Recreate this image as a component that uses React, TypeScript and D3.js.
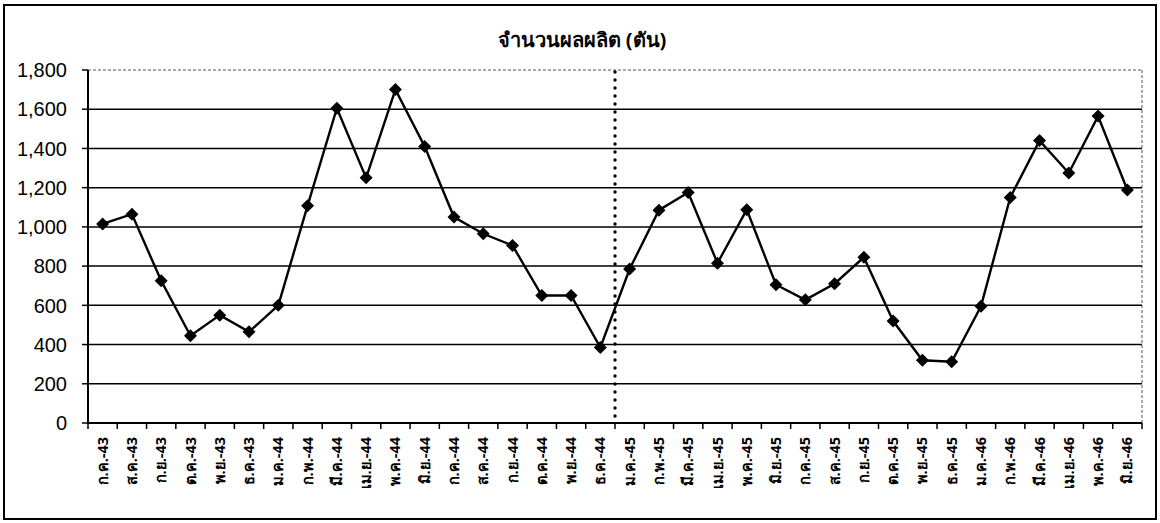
import React from "react";
import * as d3 from "d3";

const months: string[] = [
  "ก.ค.-43", "ส.ค.-43", "ก.ย.-43", "ต.ค.-43", "พ.ย.-43", "ธ.ค.-43",
  "ม.ค.-44", "ก.พ.-44", "มี.ค.-44", "เม.ย.-44", "พ.ค.-44", "มิ.ย.-44",
  "ก.ค.-44", "ส.ค.-44", "ก.ย.-44", "ต.ค.-44", "พ.ย.-44", "ธ.ค.-44",
  "ม.ค.-45", "ก.พ.-45", "มี.ค.-45", "เม.ย.-45", "พ.ค.-45", "มิ.ย.-45",
  "ก.ค.-45", "ส.ค.-45", "ก.ย.-45", "ต.ค.-45", "พ.ย.-45", "ธ.ค.-45",
  "ม.ค.-46", "ก.พ.-46", "มี.ค.-46", "เม.ย.-46", "พ.ค.-46", "มิ.ย.-46",
];

const production: number[] = [
  1015, 1065, 725, 445, 550, 465,
  600, 1108, 1605, 1250, 1700, 1410,
  1050, 965, 905, 650, 650, 385,
  785, 1085, 1175, 815, 1088, 705,
  628, 710, 845, 520, 320, 312,
  595, 1150, 1440, 1275, 1565, 1188,
];

const yTicks: number[] = [0, 200, 400, 600, 800, 1000, 1200, 1400, 1600, 1800];
const dividerAfter = "ธ.ค.-44";
const title = "จำนวนผลผลิต (ตัน)";

const W = 1160;
const H = 523;
const left = 88;
const right = 1142;
const top = 70;
const bottom = 423;

export default function App() {
  const x = d3.scaleBand<string>().domain(months).range([left, right]).padding(0);
  const y = d3.scaleLinear().domain([0, 1800]).range([bottom, top]);
  const fmt = d3.format(",");
  const line = d3
    .line<number>()
    .x((_, i) => (x(months[i]) as number) + x.bandwidth() / 2)
    .y((d) => y(d));
  const divX = (x(dividerAfter) as number) + x.bandwidth();
  const dots: number[] = d3.range(top + 2, bottom, 8);
  const boundaries = months.map((m) => x(m) as number).concat([right]);
  const diamond = (r: number) => `M0,${-r}L${r},0L0,${r}L${-r},0Z`;

  return (
    <svg
      width={W}
      height={H}
      style={{ position: "absolute", left: 0, top: 0, background: "#fff" }}
    >
      <rect x={4} y={5} width={1152} height={514} fill="#fff" stroke="#000" strokeWidth={2} />
      <text
        x={582}
        y={47}
        textAnchor="middle"
        fontFamily="'Noto Sans', Tahoma, sans-serif"
        fontWeight="bold"
        fontSize={20}
        fill="#000"
      >
        {title}
      </text>
      {/* plot area frame top/right */}
      <line x1={left} x2={right} y1={top} y2={top} stroke="#555" strokeWidth={1} strokeDasharray="3,2" />
      <line x1={right} x2={right} y1={top} y2={bottom} stroke="#555" strokeWidth={1} strokeDasharray="3,2" />
      {/* gridlines */}
      {yTicks
        .filter((t) => t > 0 && t < 1800)
        .map((t) => (
          <line key={"g" + t} x1={left} x2={right} y1={y(t)} y2={y(t)} stroke="#000" strokeWidth={1.5} />
        ))}
      {/* y axis */}
      <line x1={left} x2={left} y1={top} y2={bottom + 1} stroke="#000" strokeWidth={2} />
      {yTicks.map((t) => (
        <g key={"yt" + t}>
          <line x1={left - 6} x2={left} y1={y(t)} y2={y(t)} stroke="#000" strokeWidth={1.5} />
          <text
            x={67}
            y={y(t)}
            dy="0.36em"
            textAnchor="end"
            fontFamily="'Liberation Sans Narrow', 'Arial Narrow', 'Liberation Sans', Arial, sans-serif"
            fontSize={20}
            fill="#000"
          >
            {fmt(t)}
          </text>
        </g>
      ))}
      {/* x axis */}
      <line x1={left} x2={right} y1={bottom} y2={bottom} stroke="#000" strokeWidth={2} />
      {boundaries.map((bx, i) => (
        <line key={"xt" + i} x1={bx} x2={bx} y1={bottom} y2={bottom + 6} stroke="#000" strokeWidth={1.5} />
      ))}
      {months.map((m) => {
        const cx = (x(m) as number) + x.bandwidth() / 2;
        return (
          <text
            key={"xl" + m}
            transform={`translate(${cx},${437}) rotate(-90)`}
            textAnchor="end"
            dy="0.35em"
            fontFamily="Tahoma, 'Noto Sans', sans-serif"
            fontWeight="bold"
            fontSize={14.5}
            fill="#000"
          >
            {m}
          </text>
        );
      })}
      {/* dotted divider */}
      {dots.map((dy, i) => (
        <circle key={"d" + i} cx={divX} cy={dy} r={1.7} fill="#000" />
      ))}
      {/* series */}
      <path d={line(production) || ""} fill="none" stroke="#000" strokeWidth={2.4} />
      {production.map((v, i) => (
        <path
          key={"m" + i}
          d={diamond(6.5)}
          transform={`translate(${(x(months[i]) as number) + x.bandwidth() / 2},${y(v)})`}
          fill="#000"
        />
      ))}
    </svg>
  );
}
